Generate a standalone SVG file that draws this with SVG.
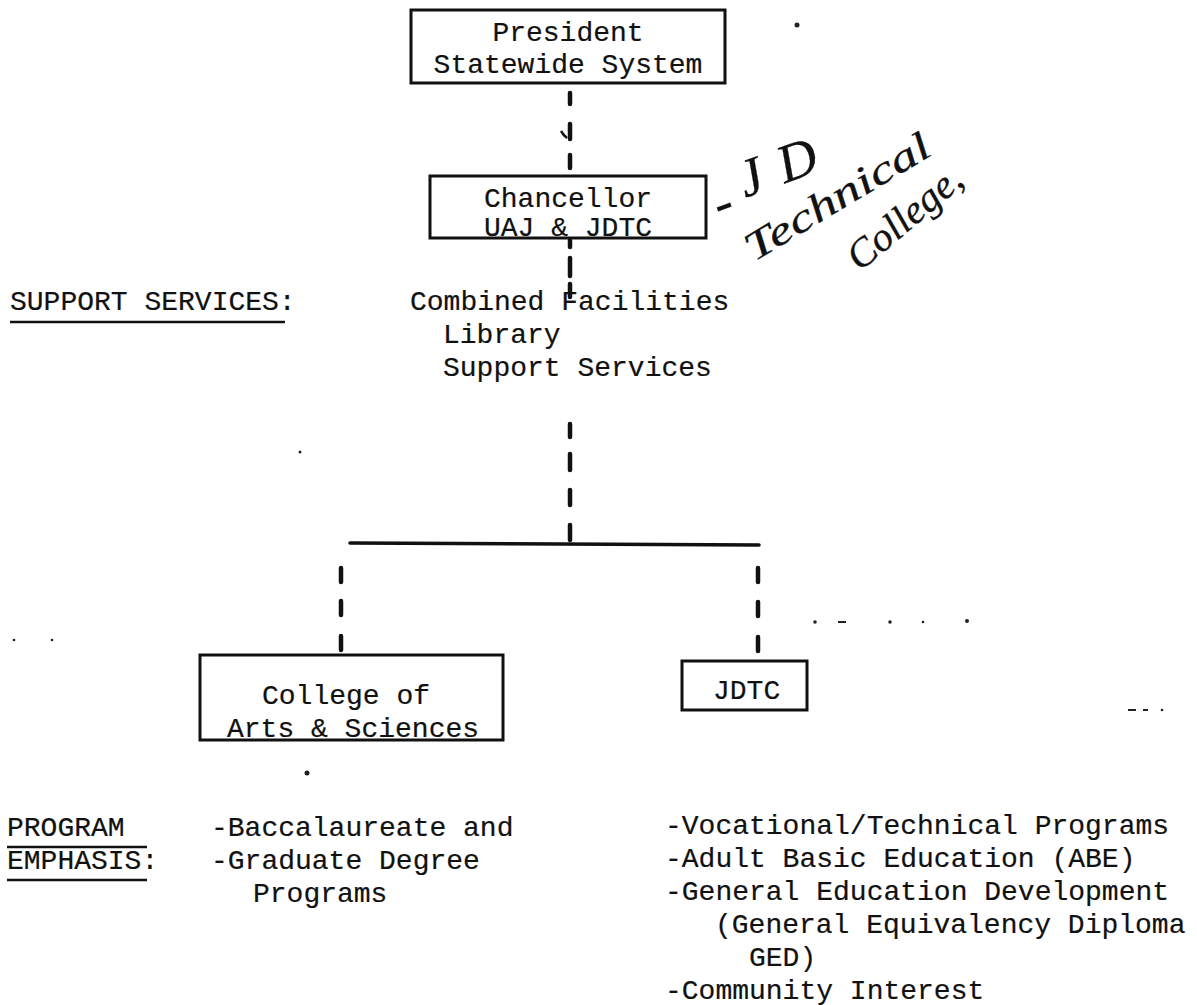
<svg xmlns="http://www.w3.org/2000/svg" width="1197" height="1005" viewBox="0 0 1197 1005">
<style>
.t{font-family:"Liberation Mono","DejaVu Sans Mono",monospace;font-size:28px;fill:#111;stroke:#111;stroke-width:0.2}
.box{fill:none;stroke:#111;stroke-width:3}
.d{stroke:#111;stroke-width:4.5;stroke-linecap:round;fill:none}
.ln{stroke:#111;stroke-width:2.5;fill:none}
.hw{font-family:"Liberation Serif","DejaVu Serif",serif;font-style:italic;fill:#111;stroke:#111;stroke-width:0.3}
.sp{fill:#222}
</style>
<rect width="1197" height="1005" fill="#fff"/>

<g id="connectors">
  <path class="d" d="M570 93V104 M570 124V139 M570 155V168"/>
  <path class="ln" d="M561 131 Q564 136 567 138"/>
  <path class="d" d="M570 240V247 M570 258V276 M570 284V297"/>
  <path class="d" d="M570 424V437 M570 454V470 M570 490V505 M570 525V540"/>
  <path d="M350 543 L560 544 L759 545" stroke="#111" stroke-width="3.5" fill="none" stroke-linecap="round"/>
  <path class="d" d="M341 568V582 M341 601V615 M341 636V650"/>
  <path class="d" d="M758 568V582 M758 602V616 M758 637V651"/>
</g>

<g id="president">
  <rect class="box" x="411" y="10" width="314" height="73"/>
  <text class="t" x="568" y="41" text-anchor="middle">President</text>
  <text class="t" x="568" y="73" text-anchor="middle">Statewide System</text>
</g>

<g id="chancellor">
  <rect class="box" x="430" y="176" width="276" height="62"/>
  <text class="t" x="568" y="207" text-anchor="middle">Chancellor</text>
  <text class="t" x="568" y="236" text-anchor="middle">UAJ &amp; JDTC</text>
</g>

<g id="support-services">
  <text class="t" x="10" y="310">SUPPORT SERVICES:</text>
  <line class="ln" x1="10" y1="322" x2="285" y2="322"/>
  <text class="t" x="410" y="310">Combined Facilities</text>
  <text class="t" x="443" y="343">Library</text>
  <text class="t" x="443" y="376">Support Services</text>
</g>

<g id="college">
  <rect class="box" x="200" y="655" width="303" height="85"/>
  <text class="t" x="262" y="704">College of</text>
  <text class="t" x="227" y="737">Arts &amp; Sciences</text>
</g>

<g id="jdtc">
  <rect class="box" x="682" y="661" width="125" height="49"/>
  <text class="t" x="713" y="699">JDTC</text>
</g>

<g id="program-emphasis">
  <text class="t" x="7" y="836">PROGRAM</text>
  <line class="ln" x1="7" y1="847" x2="147" y2="847"/>
  <text class="t" x="7" y="869">EMPHASIS:</text>
  <line class="ln" x1="7" y1="880" x2="147" y2="880"/>
  <text class="t" x="211" y="836">-Baccalaureate and</text>
  <text class="t" x="211" y="869">-Graduate Degree</text>
  <text class="t" x="253" y="902">Programs</text>
</g>

<g id="jdtc-programs">
  <text class="t" x="665" y="834">-Vocational/Technical Programs</text>
  <text class="t" x="665" y="867">-Adult Basic Education (ABE)</text>
  <text class="t" x="665" y="900">-General Education Development</text>
  <text class="t" x="715" y="933">(General Equivalency Diploma</text>
  <text class="t" x="749" y="966">GED)</text>
  <text class="t" x="665" y="999">-Community Interest</text>
</g>

<g id="annotation">
  <text class="hw" font-size="54" transform="translate(720 222) rotate(-20)">-<tspan dx="14" dy="-14">J</tspan><tspan dx="18">D</tspan></text>
  <text class="hw" font-size="40" transform="translate(754 262) rotate(-31)" textLength="210" lengthAdjust="spacingAndGlyphs">Technical</text>
  <text class="hw" font-size="40" transform="translate(860 272) rotate(-40)" textLength="138" lengthAdjust="spacingAndGlyphs">College,</text>
</g>

<g id="specks">
  <circle class="sp" cx="797" cy="25" r="2.5"/>
  <circle class="sp" cx="307" cy="773" r="2.5"/>
  <circle class="sp" cx="815" cy="622" r="1.8"/>
  <rect class="sp" x="838" y="621" width="8" height="2"/>
  <circle class="sp" cx="890" cy="622" r="1.8"/>
  <circle class="sp" cx="923" cy="622" r="1.3"/>
  <circle class="sp" cx="967" cy="621" r="2"/>
  <rect class="sp" x="1128" y="709" width="8" height="2"/>
  <rect class="sp" x="1143" y="709" width="5" height="2"/>
  <circle class="sp" cx="1162" cy="710" r="1.3"/>
  <circle class="sp" cx="14" cy="640" r="1.3"/>
  <circle class="sp" cx="52" cy="640" r="1.3"/>
  <circle class="sp" cx="300" cy="452" r="1.5"/>
</g>
</svg>
